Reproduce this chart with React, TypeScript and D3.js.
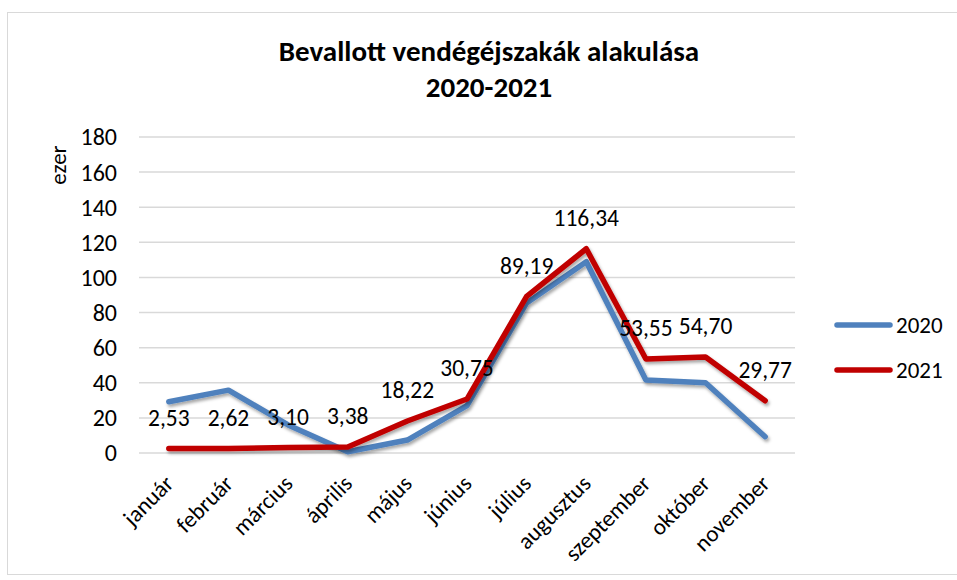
import React from "react";
import * as d3 from "d3";

const categories = ["január", "február", "március", "április", "május", "június", "július", "augusztus", "szeptember", "október", "november"];
const values2020 = [29.2, 35.8, 16, 0.7, 7.4, 27, 85.5, 109, 41.6, 40, 9.3];
const values2021 = [2.53, 2.62, 3.10, 3.38, 18.22, 30.75, 89.19, 116.34, 53.55, 54.70, 29.77];
const labels2021 = ["2,53", "2,62", "3,10", "3,38", "18,22", "30,75", "89,19", "116,34", "53,55", "54,70", "29,77"];
const yTicks = [0, 20, 40, 60, 80, 100, 120, 140, 160, 180];
const seriesNames = ["2020", "2021"];
const colors = ["#4f81bd", "#c00000"];

const W = 957, H = 580;
const left = 139, right = 795, top = 137, bottom = 453;
const font = "Carlito, Calibri, 'Open Sans', 'Noto Sans', sans-serif";

export default function App() {
  const x = d3.scaleBand().domain(categories).range([left, right]);
  const y = d3.scaleLinear().domain([0, 180]).range([bottom, top]);
  const line = d3.line<number>().x((_, i) => x(categories[i])! + x.bandwidth() / 2).y(d => y(d));
  const series = [values2020, values2021];
  return (
    <svg width={W} height={H} style={{ position: "absolute", left: 0, top: 0, background: "#fff" }}>
      <defs>
        <filter id="sh" x="-10%" y="-10%" width="120%" height="130%">
          <feDropShadow dx="1.5" dy="2.5" stdDeviation="1.8" floodColor="#000" floodOpacity="0.35" />
        </filter>
      </defs>
      <rect x={7.5} y={12.5} width={960} height={562} fill="#fff" stroke="#d9d9d9" />
      <text x={489} y={61} textAnchor="middle" fontFamily={font} fontWeight="bold" fontSize={29}>Bevallott vendégéjszakák alakulása</text>
      <text x={489} y={97} textAnchor="middle" fontFamily={font} fontWeight="bold" fontSize={29}>2020-2021</text>
      {yTicks.map(t => (
        <g key={t}>
          <line x1={left} x2={right} y1={y(t)} y2={y(t)} stroke="#d9d9d9" strokeWidth={1.5} />
          <text x={117} y={y(t)} dy="0.35em" textAnchor="end" fontFamily={font} fontSize={24}>{t}</text>
        </g>
      ))}
      <text transform="translate(66,165) rotate(-90)" textAnchor="middle" fontFamily={font} fontSize={23}>ezer</text>
      {categories.map(c => {
        const cx = x(c)! + x.bandwidth() / 2 + 6;
        return (
          <text key={c} transform={`translate(${cx},${485}) rotate(-45)`} textAnchor="end" fontFamily={font} fontSize={23}>{c}</text>
        );
      })}
      {series.map((s, k) => (
        <path key={k} d={line(s)!} fill="none" stroke={colors[k]} strokeWidth={5.5} strokeLinecap="round" strokeLinejoin="round" filter="url(#sh)" />
      ))}
      {values2021.map((v, i) => (
        <text key={i} x={x(categories[i])! + x.bandwidth() / 2} y={y(v) - 31} dy="0.35em" textAnchor="middle" fontFamily={font} fontSize={23.5}>{labels2021[i]}</text>
      ))}
      {seriesNames.map((n, k) => (
        <g key={n}>
          <line x1={837} x2={890} y1={325 + k * 45} y2={325 + k * 45} stroke={colors[k]} strokeWidth={5.5} strokeLinecap="round" />
          <text x={896} y={325 + k * 45} dy="0.35em" fontFamily={font} fontSize={23}>{n}</text>
        </g>
      ))}
    </svg>
  );
}
